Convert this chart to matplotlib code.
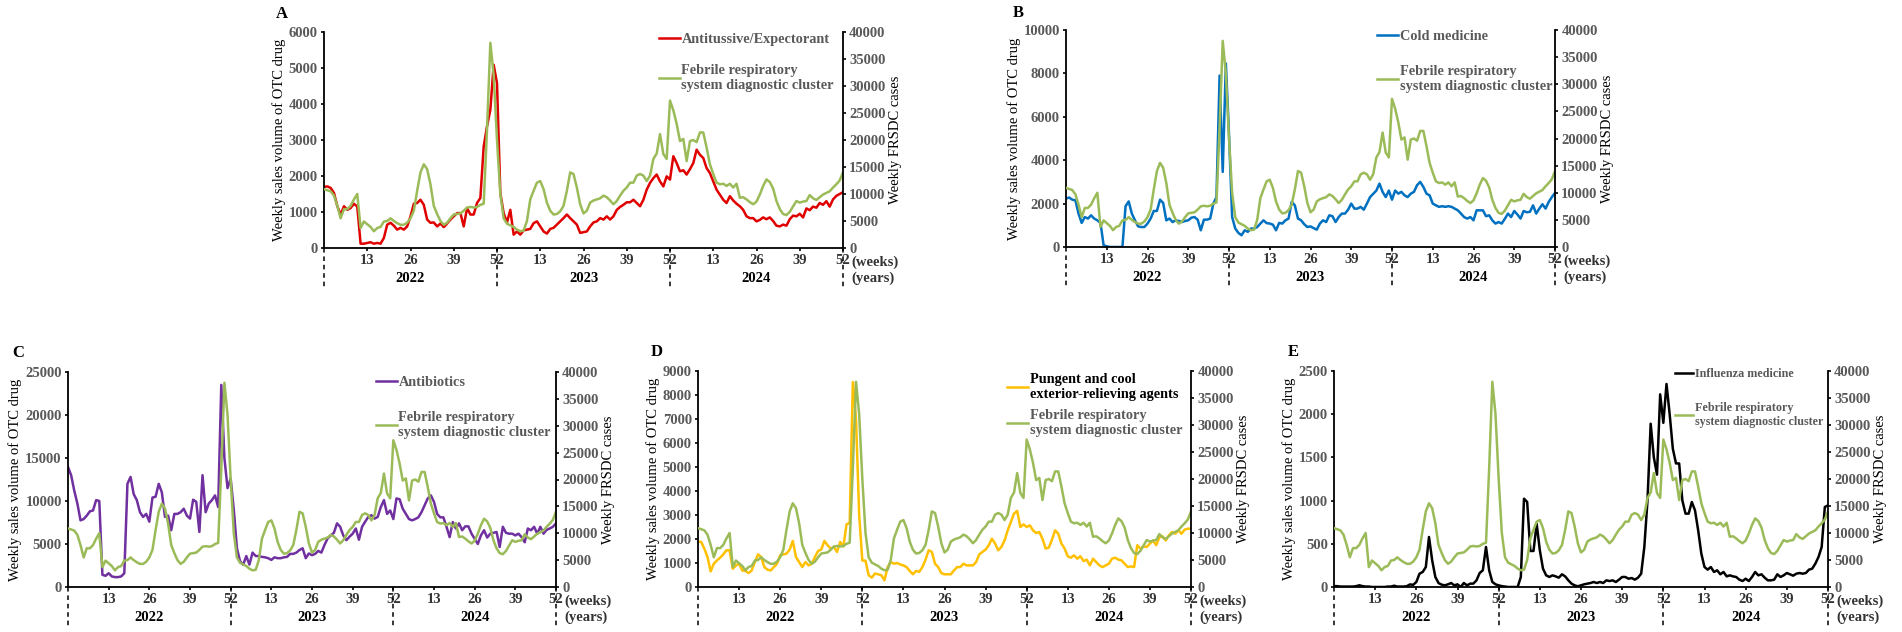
import numpy as np
import matplotlib
matplotlib.use("Agg")
import matplotlib.pyplot as plt

plt.rcParams['font.family'] = ['Liberation Serif', 'DejaVu Serif']
plt.rcParams['font.weight'] = 'bold'
plt.rcParams['axes.linewidth'] = 1.3

W, H = 1902, 632

weeks = np.arange(157)
week_ticks = [13, 26, 39, 52, 65, 78, 91, 104, 117, 130, 143, 156]
week_labels = ['13', '26', '39', '52'] * 3
year_labels = ['2022', '2023', '2024']
year_mid = [26, 78, 130]
year_edges = [0, 52, 104, 156]

# weekly FRSDC cases (shared by all panels)
frsdc = [
    10900, 10700, 10500, 9700, 7800, 5500, 7200, 7200, 7800, 9000,
    10000, 3700, 4900, 4400, 3900, 3100, 3700, 3900, 4900, 5000,
    5500, 5000, 4600, 4300, 4300, 4700, 5500, 6900, 10600, 14000,
    15500, 14600, 11800, 7800, 6300, 5000, 4300, 4700, 5500, 6200,
    6300, 6400, 6900, 7500, 7600, 7500, 7600, 8000, 8200, 22000,
    38000, 32000, 20000, 10000, 5500, 4500, 4200, 3900, 3400, 3100,
    3200, 5000, 9000, 10600, 12100, 12400, 10900, 8400, 6900, 6200,
    6300, 6800, 7800, 10600, 14000, 13700, 11200, 8100, 6400, 6900,
    8400, 8800, 9000, 9200, 9700, 9400, 8800, 8100, 8700, 9700,
    10600, 11200, 12100, 12100, 13400, 13700, 13400, 12400, 13400, 16500,
    17500, 21100, 17400, 16500, 27300, 25500, 23000, 19800, 20200, 16100,
    19800, 20000, 19600, 21400, 21400, 18600, 15500, 13700, 12100, 11800,
    11900, 11500, 11900, 11200, 11900, 9300, 9400, 9000, 8500, 8100,
    8600, 9900, 11500, 12700, 12200, 11000, 8700, 7200, 6300, 6100,
    6700, 7700, 8700, 8400, 8600, 8700, 9800, 9200, 8900, 9400,
    9900, 10200, 10500, 11200, 11800, 12500, 14000,
]

antitussive = [
    1700, 1710, 1670, 1530, 1160, 930, 1160, 1060, 1110, 1230,
    1150, 120, 120, 140, 160, 120, 140, 120, 280, 650,
    700, 620, 510, 560, 510, 600, 880, 1230, 1250, 1340,
    1200, 790, 700, 710, 600, 680, 580, 680, 790, 880,
    970, 970, 600, 1110, 930, 930, 1250, 1390, 2820, 3380,
    3840, 5090, 4580, 1530, 970, 710, 1060, 370, 460, 370,
    490, 510, 530, 690, 740, 600, 460, 400, 530, 560,
    650, 740, 830, 930, 830, 740, 650, 420, 440, 460,
    600, 710, 740, 830, 790, 880, 790, 880, 1060, 1140,
    1200, 1270, 1270, 1340, 1250, 1160, 1340, 1620, 1810, 1940,
    2040, 1850, 1710, 1990, 1900, 2550, 2360, 2130, 2160, 2040,
    2190, 2360, 2730, 2590, 2500, 2220, 2080, 1850, 1620, 1480,
    1340, 1250, 1440, 1320, 1230, 1160, 1060, 880, 830, 830,
    740, 780, 850, 800, 850, 750, 620, 600, 650, 620,
    800, 900, 880, 950, 850, 1100, 1050, 1150, 1120, 1250,
    1200, 1300, 1150, 1350, 1450, 1500, 1550,
]

cold = [
    2230, 2280, 2180, 2150, 1540, 1110, 1380, 1310, 1460, 1310,
    1230, 1110, 80, 30, 0, 0, 0, 0, 0, 1880,
    2100, 1540, 1230, 950, 920, 920, 1080, 1310, 1660, 1660,
    2180, 2030, 1230, 1310, 1150, 1230, 1200, 1150, 1200, 1230,
    1350, 1380, 1260, 770, 1260, 1260, 1310, 2000, 2300, 7900,
    3460, 8460, 5200, 1380, 850, 650, 540, 770, 700, 850,
    850, 920, 1080, 1230, 1100, 1080, 1030, 770, 1110, 1080,
    1230, 1310, 2080, 1920, 1310, 1230, 1050, 920, 950, 870,
    800, 1080, 1230, 1150, 1460, 1420, 1150, 1380, 1540, 1540,
    1720, 2000, 1770, 1770, 1850, 1720, 2000, 2300, 2450, 2600,
    2920, 2540, 2300, 2600, 2180, 2600, 2460, 2540, 2380, 2300,
    2460, 2540, 2850, 3000, 2770, 2460, 2380, 2000, 1920, 1850,
    1880, 1850, 1880, 1850, 1770, 1690, 1540, 1380, 1310, 1380,
    1230, 1690, 1690, 1690, 1420, 1460, 1230, 1080, 1150, 1080,
    1300, 1540, 1380, 1660, 1500, 1310, 1660, 1600, 1620, 1920,
    1540, 1770, 1970, 1770, 2080, 2300, 2490,
]

antibiotics = [
    13950, 13000, 11200, 9700, 7750, 7900, 8300, 8800, 8900, 10100,
    10000, 1420, 1300, 1600, 1230, 1150, 1150, 1230, 1600, 12000,
    12800, 10800, 10100, 8700, 8150, 8500, 7600, 10400, 10500, 12000,
    11000, 8150, 8300, 6600, 8500, 8500, 8700, 9100, 8300, 7950,
    10150, 9900, 6400, 13000, 8700, 9700, 10100, 10650, 9300, 23500,
    15000, 11500, 12600, 9000, 4500, 3000, 2600, 3600, 2600, 4000,
    3600, 3600, 3500, 3450, 3350, 3150, 3450, 3350, 3350, 3450,
    3500, 3850, 3850, 4000, 4300, 4500, 3350, 3900, 3700, 3850,
    4200, 4000, 4900, 5650, 6000, 6300, 7400, 7000, 6000, 5450,
    5850, 6200, 6800, 5500, 7000, 7600, 8150, 8350, 7950, 8150,
    9300, 10100, 8500, 8900, 7900, 10300, 10200, 9100, 8500, 7900,
    7750, 7900, 8100, 8700, 9500, 10300, 10650, 9900, 8500, 8100,
    8100, 7000, 5800, 7550, 6800, 7400, 6600, 7050, 7050, 6200,
    5600, 5000, 6000, 6600, 5750, 6200, 6300, 6400, 4650, 7000,
    6300, 6200, 6200, 6000, 6200, 5800, 5200, 6800, 6600, 7000,
    6200, 7000, 6200, 6650, 6800, 7000, 7400,
]

pungent = [
    1880, 1880, 1600, 1250, 650, 970, 1110, 1220, 1360, 1530,
    1530, 760, 900, 970, 690, 670, 580, 690, 1040, 1360,
    1250, 830, 720, 690, 830, 970, 1320, 1360, 1390, 1560,
    1920, 1250, 1040, 830, 1040, 900, 970, 1250, 1500, 1560,
    1920, 1740, 1600, 1670, 1460, 1880, 1690, 2610, 2670, 8540,
    7000, 3000, 1100, 1100, 490, 390, 560, 530, 490, 280,
    830, 1040, 970, 1000, 940, 900, 830, 670, 530, 670,
    630, 830, 1140, 1530, 1460, 970, 830, 580, 530, 530,
    530, 690, 830, 830, 970, 900, 900, 900, 1040, 1360,
    1460, 1560, 1740, 2010, 1810, 1530, 1670, 1940, 2360, 2710,
    3060, 3170, 2500, 2610, 2500, 2570, 2360, 2250, 2290, 2010,
    1600, 1640, 1970, 2360, 2220, 1810, 1600, 1280, 1220, 1320,
    1180, 1280, 1080, 1140, 900, 1180, 1040, 900, 830, 900,
    970, 1180, 1220, 1140, 1110, 970, 830, 860, 830, 1740,
    1600, 1690, 1670, 1810, 1940, 1740, 2080, 2110, 1940, 2150,
    2290, 2220, 2360, 2220, 2390, 2430, 2430,
]

influenza = [
    10, 10, 5, 5, 5, 5, 5, 10, 20, 10,
    5, 5, 0, 0, 0, 0, 0, 5, 5, 15,
    5, 5, 5, 10, 30, 25, 58, 154, 174, 231,
    579, 309, 116, 46, 27, 19, 31, 46, 19, 31,
    0, 46, 19, 39, 39, 77, 162, 193, 463, 193,
    58, 31, 19, 10, 5, 0, 0, 0, 0, 116,
    1022, 984, 417, 417, 733, 424, 212, 135, 116, 135,
    123, 108, 147, 123, 77, 39, 19, 8, 19, 31,
    39, 46, 58, 46, 58, 46, 77, 69, 77, 58,
    85, 116, 116, 96, 104, 85, 108, 154, 463, 1003,
    1890, 1500, 1300, 2230, 1900, 2350, 2000, 1600, 1430, 1430,
    1003, 849, 849, 984, 887, 656, 386, 231, 201, 231,
    174, 193, 147, 174, 123, 135, 123, 116, 85, 69,
    96, 69, 116, 174, 135, 147, 108, 77, 77, 85,
    147, 116, 135, 162, 147, 131, 154, 162, 154, 162,
    201, 212, 270, 347, 463, 926, 945,
]

frsdc_label = 'Febrile respiratory\nsystem diagnostic cluster'

GREEN = '#9BBB59'
GREY = '#595959'
TICK_SIZE = 10.5
LABEL_SIZE = 10.5


def draw_panel(fig, box, letter, letter_xy, series, color, label, ymax, ystep,
               leg_gap, leg_space, leg_size, label_colors):
    l, t, r, b = box
    wpx, hpx = r - l, b - t
    ax = fig.add_axes([l / W, 1 - b / H, wpx / W, hpx / H])
    ax2 = ax.twinx()

    line1, = ax.plot(weeks, series, color=color, lw=1.8)
    line2, = ax2.plot(weeks, frsdc, color=GREEN, lw=1.8)

    ax.set_xlim(0, 156)
    ax.set_ylim(0, ymax)
    ax.set_yticks(np.arange(0, ymax + 1, ystep))
    ax2.set_ylim(0, 40000)
    ax2.set_yticks(np.arange(0, 40001, 5000))
    ax.set_xticks(week_ticks)
    ax.set_xticklabels(week_labels)

    ax.spines[['top', 'right']].set_visible(False)
    ax2.spines[['top', 'left', 'bottom']].set_visible(False)

    ax.tick_params(axis='y', direction='out', length=2.5, width=1.2,
                   labelsize=TICK_SIZE, labelcolor=GREY, pad=2)
    ax.tick_params(axis='x', direction='out', length=2.5, width=1.2,
                   labelsize=TICK_SIZE, labelcolor='#333333', pad=1.5)
    ax2.tick_params(axis='y', direction='out', length=2.5, width=1.2,
                    labelsize=TICK_SIZE, labelcolor=GREY, pad=2)

    ax.set_ylabel('Weekly sales volume of OTC drug', fontsize=LABEL_SIZE,
                  labelpad=2)
    ax2.set_ylabel('Weekly FRSDC cases', fontsize=LABEL_SIZE, labelpad=2)

    # year labels and dashed year boundaries below the axis
    for yr, xm in zip(year_labels, year_mid):
        ax.annotate(yr, xy=(xm, 0), xycoords=('data', 'axes fraction'),
                    xytext=(0, -22), textcoords='offset points',
                    ha='center', va='center', fontsize=TICK_SIZE,
                    color='black')
    for xb in year_edges:
        ax.plot([xb, xb], [0, -40 / hpx], transform=ax.get_xaxis_transform(),
                color='black', lw=1.1, ls=(0, (3, 2.5)), clip_on=False)
    ax.annotate('(weeks)', xy=(1, 0), xycoords='axes fraction',
                xytext=(6, -10.5), textcoords='offset points',
                ha='left', va='center', fontsize=TICK_SIZE, color='#333333')
    ax.annotate('(years)', xy=(1, 0), xycoords='axes fraction',
                xytext=(6, -22), textcoords='offset points',
                ha='left', va='center', fontsize=TICK_SIZE, color='#333333')

    gx, gy = leg_gap
    leg = ax2.legend([line1, line2], [label, frsdc_label], loc='upper right',
                     bbox_to_anchor=(1 - gx / wpx, 1 - gy / hpx),
                     frameon=False, borderpad=0, borderaxespad=0,
                     handlelength=1.5, handletextpad=0.1,
                     labelspacing=leg_space,
                     prop={'family': 'Liberation Serif', 'weight': 'bold',
                           'size': leg_size})
    for txt, c in zip(leg.get_texts(), label_colors):
        txt.set_color(c)
    for h in leg.legend_handles:
        h.set_linewidth(1.8)

    fig.text(letter_xy[0] / W, 1 - letter_xy[1] / H, letter, fontsize=12,
             fontweight='bold', ha='center', va='center')
    return ax


fig = plt.figure(figsize=(W / 100, H / 100), dpi=100)

draw_panel(fig, (324, 32, 843, 248), 'A', (282, 14), antitussive, '#E00000',
           'Antitussive/Expectorant', 6000, 1000,
           (9, 1), 1.25, 10.3, [GREY, GREY])
draw_panel(fig, (1066, 30, 1555, 247), 'B', (1018, 13), cold, '#0070C0',
           'Cold medicine', 10000, 2000,
           (3, 0), 1.55, 10.3, [GREY, GREY])
draw_panel(fig, (68, 372, 556, 587), 'C', (18, 353), antibiotics, '#7030A0',
           'Antibiotics', 25000, 5000,
           (5, 4), 1.55, 10.3, [GREY, GREY])
draw_panel(fig, (698, 371, 1191, 587), 'D', (657, 352), pungent, '#FFC000',
           'Pungent and cool\nexterior-relieving agents', 9000, 1000,
           (9, 2), 0.55, 10.3, ['black', GREY])
draw_panel(fig, (1334, 371, 1828, 587), 'E', (1293, 352), influenza, 'black',
           'Influenza medicine', 2500, 500,
           (5, -3), 1.8, 8.7, [GREY, GREY])

fig.savefig('out.png', dpi=100)
